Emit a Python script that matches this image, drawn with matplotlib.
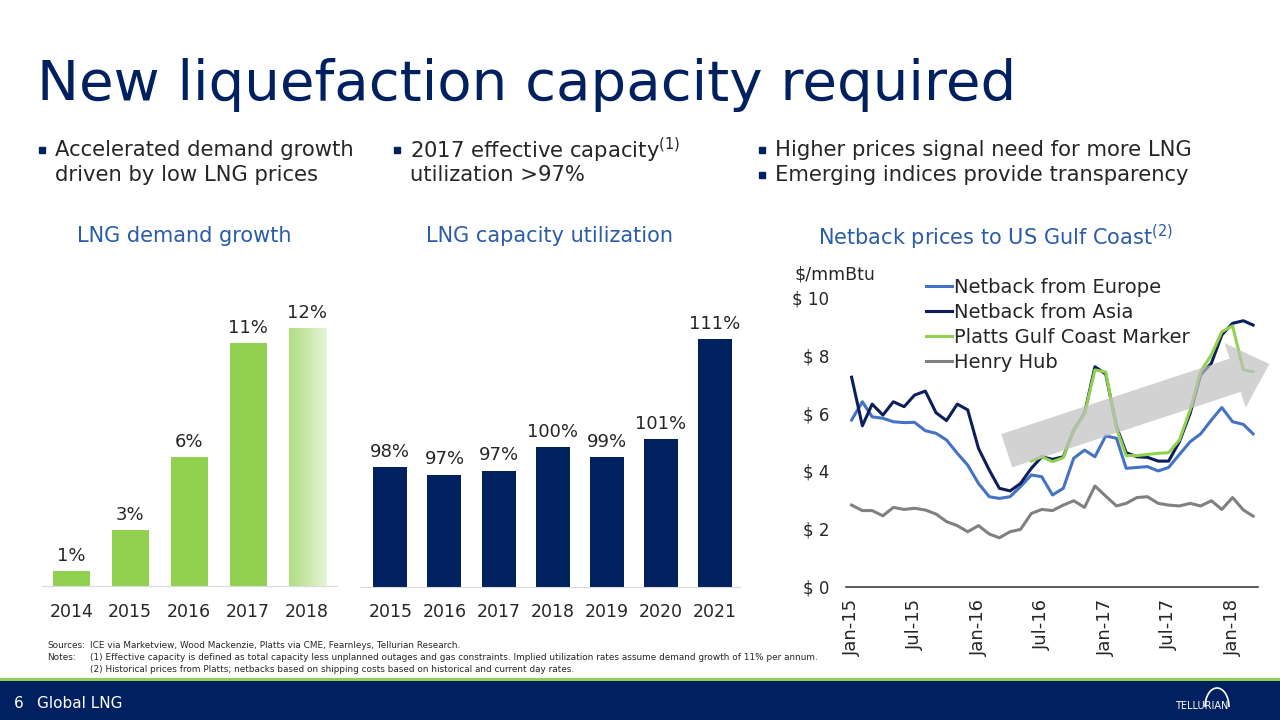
import numpy as np
import pandas as pd
import matplotlib
matplotlib.use("Agg")
import matplotlib.pyplot as plt
import matplotlib.dates as mdates
from matplotlib.patches import Rectangle, Polygon, Arc

plt.rcParams["font.family"] = ["DejaVu Sans"]
plt.rcParams["mathtext.default"] = "regular"

NAVY = "#002060"
GREEN = "#92D050"
SUB_BLUE = "#2A5CAA"
TXT = "#262626"

# LNG demand growth (%)
demand_years = ["2014", "2015", "2016", "2017", "2018"]
demand_growth = [0.7, 2.6, 6.0, 11.3, 12.0]
demand_labels = ["1%", "3%", "6%", "11%", "12%"]

# LNG capacity utilization (%)
util_years = ["2015", "2016", "2017", "2018", "2019", "2020", "2021"]
util_pct = [98.0, 97.2, 97.6, 100.0, 99.0, 100.8, 111.0]
util_labels = ["98%", "97%", "97%", "100%", "99%", "101%", "111%"]

# Netback prices, $/mmBtu, monthly Jan-15 .. Mar-18
months = pd.date_range("2015-01-01", "2018-03-01", freq="MS")
europe = [5.76, 6.39, 5.87, 5.82, 5.70, 5.67, 5.68, 5.39, 5.30, 5.07, 4.61, 4.20, 3.57,
          3.11, 3.05, 3.11, 3.46, 3.86, 3.80, 3.17, 3.40, 4.44, 4.72, 4.49, 5.21, 5.13,
          4.09, 4.12, 4.15, 4.00, 4.12, 4.57, 5.01, 5.28, 5.76, 6.19, 5.70, 5.61, 5.28]
asia = [7.24, 5.56, 6.31, 5.93, 6.39, 6.22, 6.62, 6.76, 6.01, 5.74, 6.31, 6.11, 4.78,
        4.03, 3.40, 3.31, 3.57, 4.09, 4.49, 4.40, 4.49, 5.41, 5.99, 7.60, 7.35, 5.53,
        4.63, 4.49, 4.47, 4.34, 4.34, 5.01, 5.99, 7.32, 7.72, 8.70, 9.10, 9.19, 9.04]
# Platts Gulf Coast Marker starts Jun-16
platts = [4.34, 4.49, 4.32, 4.46, 5.41, 5.97, 7.49, 7.42, 5.47, 4.53, 4.53, 4.57, 4.61,
          4.63, 5.07, 6.11, 7.43, 8.01, 8.81, 9.01, 7.49, 7.43]
henry = [2.82, 2.63, 2.63, 2.45, 2.74, 2.67, 2.71, 2.65, 2.51, 2.25, 2.11, 1.90, 2.11,
         1.82, 1.69, 1.90, 1.98, 2.53, 2.67, 2.63, 2.82, 2.97, 2.74, 3.48, 3.13, 2.79,
         2.88, 3.08, 3.11, 2.88, 2.82, 2.79, 2.88, 2.79, 2.97, 2.67, 3.08, 2.65, 2.44]

W, H = 1280, 720


def px_rect(left, top, right, bottom):
    return [left / W, 1 - bottom / H, (right - left) / W, (bottom - top) / H]


fig = plt.figure(figsize=(12.8, 7.2), dpi=100)
fig.patch.set_facecolor("white")

# background layer in pixel coordinates
bg = fig.add_axes([0, 0, 1, 1], zorder=0)
bg.set_xlim(0, W)
bg.set_ylim(H, 0)
bg.axis("off")

# title
bg.text(37, 100, "New liquefaction capacity required", fontsize=40.5, color=NAVY,
        va="baseline", ha="left")

# bullets
bullets = [
    (42, 150, "Accelerated demand growth"),
    (None, 175, "driven by low LNG prices"),
    (397, 150, "2017 effective capacity$^{(1)}$"),
    (None, 175, "utilization >97%"),
    (762, 150, "Higher prices signal need for more LNG"),
    (762, 175, "Emerging indices provide transparency"),
]
col_x = [42, 42, 397, 397, 762, 762]
for (bx, by, txt), cx in zip(bullets, col_x):
    if bx is not None:
        bg.plot([bx], [by], marker="s", ms=4, color=NAVY, ls="none")
    bg.text(cx + 13, by, txt, fontsize=15.2, color=TXT, va="center", ha="left")

# chart subtitles
bg.text(184, 236, "LNG demand growth", fontsize=15, color=SUB_BLUE, ha="center", va="center")
bg.text(550, 236, "LNG capacity utilization", fontsize=15, color=SUB_BLUE, ha="center", va="center")
bg.text(996, 237, "Netback prices to US Gulf Coast$^{(2)}$", fontsize=15, color=SUB_BLUE,
        ha="center", va="center")

# footnotes
fn = 6.4
bg.text(47, 645, "Sources:", fontsize=fn, color=TXT, va="center")
bg.text(90, 645, "ICE via Marketview, Wood Mackenzie, Platts via CME, Fearnleys, Tellurian Research.",
        fontsize=fn, color=TXT, va="center")
bg.text(47, 658, "Notes:", fontsize=fn, color=TXT, va="center")
bg.text(90, 658, "(1) Effective capacity is defined as total capacity less unplanned outages and gas "
        "constraints. Implied utilization rates assume demand growth of 11% per annum.",
        fontsize=fn, color=TXT, va="center")
bg.text(90, 670, "(2) Historical prices from Platts; netbacks based on shipping costs based on "
        "historical and current day rates.", fontsize=fn, color=TXT, va="center")

# footer band
bg.add_patch(Rectangle((0, 678), W, 3, color=GREEN, lw=0))
bg.add_patch(Rectangle((0, 681), W, 39, color=NAVY, lw=0))
bg.text(14, 703, "6", fontsize=11, color="white", va="center")
bg.text(37, 703, "Global LNG", fontsize=11, color="white", va="center")
bg.text(1175, 706, "TELLURIAN", fontsize=7, color="white", va="center", ha="left")
bg.add_patch(Arc((1217, 707), 24, 38, theta1=180, theta2=360, color="white", lw=1.2))

# ---- LNG demand growth bars
ax1 = fig.add_axes(px_rect(41.7, 306.5, 336.7, 586), zorder=1)
ax1.set_facecolor("none")
x1 = np.arange(len(demand_years))
bars1 = ax1.bar(x1, demand_growth, width=0.63, color=GREEN, zorder=2)
# last bar (forecast) with a fading fill
last = bars1[-1]
last.set_facecolor("none")
grad = np.linspace(0, 1, 256).reshape(1, -1)
cmap = matplotlib.colors.LinearSegmentedColormap.from_list("fade", ["#AEDD82", "#E6F5D8"])
im = ax1.imshow(grad, cmap=cmap, aspect="auto", zorder=2,
                extent=[last.get_x(), last.get_x() + last.get_width(), 0, last.get_height()])
im.set_clip_path(last)
ax1.set_xlim(-0.5, 4.5)
ax1.set_ylim(0, 13)
for xi, v, lab in zip(x1, demand_growth, demand_labels):
    ax1.annotate(lab, (xi, v), xytext=(0, 4.5), textcoords="offset points",
                 ha="center", va="bottom", fontsize=13, color=TXT)
ax1.set_xticks(x1)
ax1.set_xticklabels(demand_years, fontsize=12.5, color=TXT)
ax1.tick_params(axis="x", length=0, pad=12)
ax1.set_yticks([])
for s in ["top", "right", "left"]:
    ax1.spines[s].set_visible(False)
ax1.spines["bottom"].set_color("#D9D9D9")

# ---- LNG capacity utilization bars
ax2 = fig.add_axes(px_rect(360, 310, 740, 586.7), zorder=1)
ax2.set_facecolor("none")
x2 = np.arange(len(util_years))
ax2.bar(x2, util_pct, width=0.63, color=NAVY, zorder=2)
ax2.set_xlim(-0.56, 6.46)
ax2.set_ylim(85.76, 114)
for xi, v, lab in zip(x2, util_pct, util_labels):
    ax2.annotate(lab, (xi, v), xytext=(0, 4.5), textcoords="offset points",
                 ha="center", va="bottom", fontsize=13, color=TXT)
ax2.set_xticks(x2)
ax2.set_xticklabels(util_years, fontsize=12.5, color=TXT)
ax2.tick_params(axis="x", length=0, pad=12)
ax2.set_yticks([])
for s in ["top", "right", "left"]:
    ax2.spines[s].set_visible(False)
ax2.spines["bottom"].set_color("#D9D9D9")

# ---- Netback prices lines
ax3 = fig.add_axes(px_rect(845.7, 297.3, 1258.3, 586.7), zorder=2)
ax3.set_facecolor("none")
ax3.plot(months, europe, color="#4472C4", lw=2.2, label="Netback from Europe")
ax3.plot(months, asia, color="#0C1F5C", lw=2.2, label="Netback from Asia")
ax3.plot(months[-len(platts):], platts, color=GREEN, lw=2.2, label="Platts Gulf Coast Marker")
ax3.plot(months, henry, color="#808080", lw=2.2, label="Henry Hub")
ax3.set_xlim(months[0] - pd.Timedelta(days=17), months[-1] + pd.Timedelta(days=15))
ax3.set_ylim(0, 10)
ax3.set_yticks([0, 2, 4, 6, 8, 10])
ax3.set_yticklabels(["$ 0", "$ 2", "$ 4", "$ 6", "$ 8", "$ 10"], fontsize=12, color=TXT)
ax3.xaxis.set_major_locator(mdates.MonthLocator(bymonth=[1, 7]))
ax3.xaxis.set_major_formatter(mdates.DateFormatter("%b-%y"))
plt.setp(ax3.get_xticklabels(), rotation=90, fontsize=13, color=TXT, ha="center", va="top")
ax3.tick_params(axis="x", length=0, pad=9)
ax3.tick_params(axis="y", length=0, pad=12)
for s in ["top", "right", "left"]:
    ax3.spines[s].set_visible(False)
ax3.spines["bottom"].set_color("#404040")
ax3.spines["bottom"].set_linewidth(1.2)
bg.text(795, 274, "$/mmBtu", fontsize=12.5, color=TXT, va="center", ha="left")

leg = ax3.legend(loc="upper left", bbox_to_anchor=(926 / W, 1 - 278 / H),
                 bbox_transform=fig.transFigure, frameon=False, fontsize=14,
                 handlelength=1.36, handletextpad=0.1, labelspacing=0.31, borderpad=0,
                 borderaxespad=0)
for t in leg.get_texts():
    t.set_color(TXT)

# translucent trend arrow over the lines
tail = np.array([1006.7, 450.7])
tip = np.array([1269.3, 364.0])
u = (tip - tail) / np.linalg.norm(tip - tail)
n = np.array([-u[1], u[0]])
sw, hw, hl = 17.5, 34.0, 36.0
base = tip - u * hl
pts = [tail + n * sw, base + n * sw, base + n * hw, tip, base - n * hw, base - n * sw, tail - n * sw]
ax3.add_patch(Polygon(pts, closed=True, transform=bg.transData, facecolor="#BFBFBF",
                      edgecolor="none", alpha=0.7, clip_on=False, zorder=5))

fig.savefig("out.png", dpi=100, facecolor=fig.get_facecolor())
